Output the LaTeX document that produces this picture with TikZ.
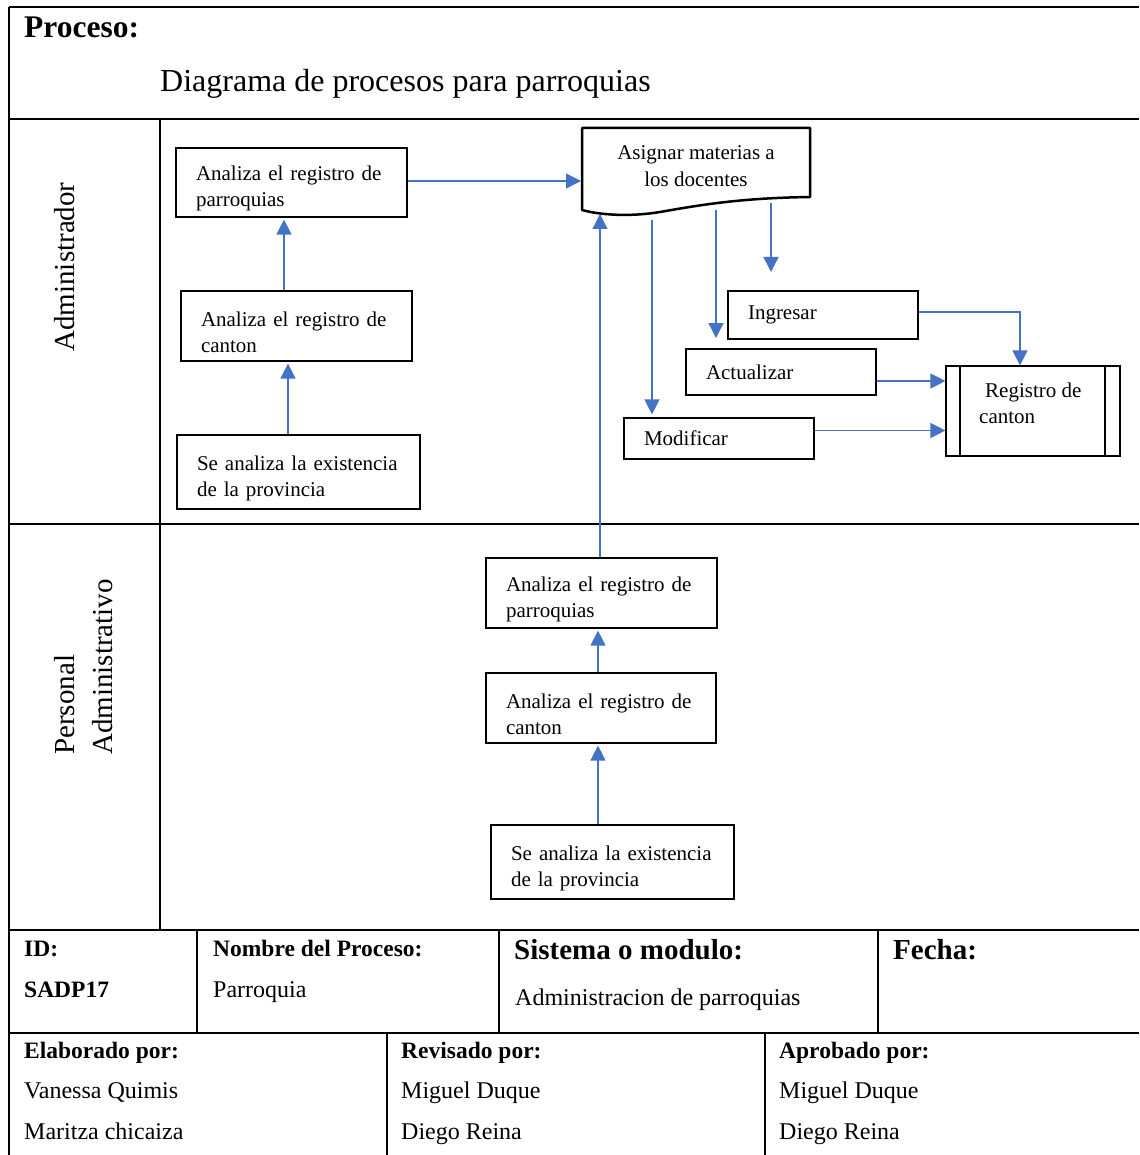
\documentclass[tikz,border=0pt]{standalone}
\usepackage{fontspec}
\setmainfont{Liberation Serif}
\usetikzlibrary{arrows.meta}
\definecolor{arrblue}{RGB}{68,114,196}
\newcommand\boxup{\rule{0pt}{27pt}}
\begin{document}
\begin{tikzpicture}[x=1pt,y=-1pt,
  box/.style={draw, line width=1.2pt, rectangle, inner xsep=20pt, inner ysep=0pt, align=left, font=\fontsize{21}{26}\selectfont},
  arr/.style={draw=arrblue, line width=1.3pt, -{Triangle[length=15pt,width=15pt]}},
  grid/.style={line width=2pt},
  lbl/.style={anchor=base west, inner sep=0pt},
  sbold/.style={lbl, font=\fontsize{23.5}{26}\selectfont\bfseries},
  sreg/.style={lbl, font=\fontsize{24}{26}\selectfont},
  bbold/.style={lbl, font=\fontsize{29}{34}\selectfont\bfseries},
  lane/.style={rotate=90, align=left, font=\fontsize{29}{38}\selectfont}]
\useasboundingbox (0,0) rectangle (1139,1155);
\fill[white] (0,0) rectangle (1139,1155);
% table frame
\draw[grid] (9,7) -- (1139,7);
\draw[grid] (9,7) -- (9,1155);
\draw[grid] (9,119) -- (1139,119);
\draw[grid] (160,119) -- (160,930);
\draw[grid] (9,524) -- (1139,524);
\draw[grid] (9,930) -- (1139,930);
\draw[grid] (197,930) -- (197,1033);
\draw[grid] (499,930) -- (499,1033);
\draw[grid] (878,930) -- (878,1033);
\draw[grid] (9,1033) -- (1139,1033);
\draw[grid] (387,1033) -- (387,1155);
\draw[grid] (765,1033) -- (765,1155);
% header
\node[lbl, font=\fontsize{31.5}{34}\selectfont\bfseries] (proc) at (24,38) {Proceso:};
\node[lbl, font=\fontsize{32}{34}\selectfont] (title) at (160,92) {Diagrama de procesos para parroquias};
% lane labels
\node[lane] (ladm) at (65,267) {Administrador};
\node[lane] (lper) at (84,667) {Personal\\Administrativo};
% admin lane boxes
\node[box, minimum width=231pt, minimum height=69pt, text width=191pt] (a1) at (291.5,182.5) {\boxup Analiza el registro de\\parroquias};
\node[box, minimum width=231pt, minimum height=70pt, text width=191pt] (a2) at (296.5,326) {\boxup Analiza el registro de\\canton};
\node[box, minimum width=243pt, minimum height=74pt, text width=203pt] (a3) at (298.5,472) {\boxup Se analiza la existencia\\de la provincia};
% document shape
\draw[line width=2.5pt, line join=round] (582,210) -- (582,128) -- (810,128) -- (810,197)
  .. controls (740,198) and (700,205) .. (660,212)
  .. controls (630,217) and (600,215) .. (582,210) -- cycle;
\node[align=center, font=\fontsize{21}{27}\selectfont] (doc) at (696,166) {Asignar materias a\\los docentes};
\coordinate (docL) at (581,181);
\coordinate (docP) at (600,214);
\coordinate (d1s) at (652,220);
\coordinate (d2s) at (716,210);
\coordinate (d3s) at (771,203);
\coordinate (d2e) at (716,338);
\coordinate (d3e) at (771,272);
% action boxes
\node[box, minimum width=190pt, minimum height=48pt, text width=150pt] (ing) at (823,315) {Ingresar};
\node[box, minimum width=190pt, minimum height=46pt, text width=150pt] (act) at (781,372) {Actualizar};
\node[box, minimum width=190pt, minimum height=41pt, text width=150pt] (mod) at (719,438.5) {Modificar};
% registro de canton
\node[draw, line width=1.2pt, minimum width=174pt, minimum height=90pt, inner sep=0pt] (rc) at (1033,411) {};
\draw[line width=1.2pt] (960,366) -- (960,456);
\draw[line width=1.2pt] (1105,366) -- (1105,456);
\node[anchor=north west, align=left, inner sep=0pt, font=\fontsize{21}{26}\selectfont] (rct) at (979,383) {\hspace{6pt}Registro de\\canton};
% personal lane boxes
\node[box, minimum width=231pt, minimum height=70pt, text width=191pt] (p1) at (601.5,593) {\boxup Analiza el registro de\\parroquias};
\node[box, minimum width=230pt, minimum height=70pt, text width=190pt] (p2) at (601,708) {\boxup Analiza el registro de\\canton};
\node[box, minimum width=243pt, minimum height=74pt, text width=203pt] (p3) at (612.5,862) {\boxup Se analiza la existencia\\de la provincia};
% arrows
\draw[arr] (a3.north -| 288,0) -- ([yshift=-2pt]a2.south -| 288,0);
\draw[arr] (a2.north -| 284,0) -- ([yshift=-2pt]a1.south -| 284,0);
\draw[arr] (a1.east |- docL) -- (docL);
\draw[arr] (p1.north -| docP) -- (docP);
\draw[arr] (p3.north -| 598,0) -- ([yshift=-2pt]p2.south -| 598,0);
\draw[arr] (p2.north -| 598,0) -- ([yshift=-2pt]p1.south -| 598,0);
\draw[arr] (d1s) -- ([yshift=3pt]mod.north -| d1s);
\draw[arr] (d2s) -- (d2e);
\draw[arr] (d3s) -- (d3e);
\draw[arr] ([yshift=3pt]ing.east) -| ([xshift=-13pt]rc.north);
\draw[arr] ([yshift=-9pt]act.east) -- ([yshift=-9pt]act.east -| rc.west);
\draw[arr] ([yshift=8pt]mod.east) -- ([yshift=8pt]mod.east -| rc.west);
% bottom table texts
\node[sbold] (id) at (24,956) {ID:};
\node[sbold] (idv) at (24,997) {SADP17};
\node[sbold] (nom) at (213,956) {Nombre del Proceso:};
\node[sreg] (nomv) at (213,997) {Parroquia};
\node[bbold] (sis) at (514,959) {Sistema o modulo:};
\node[sreg] (sisv) at (515,1005) {Administracion de parroquias};
\node[bbold] (fec) at (893,959) {Fecha:};
\node[sbold] (ela) at (24,1058) {Elaborado por:};
\node[sreg] (ela1) at (24,1098) {Vanessa Quimis};
\node[sreg] (ela2) at (24,1139) {Maritza chicaiza};
\node[sbold] (rev) at (401,1058) {Revisado por:};
\node[sreg] (rev1) at (401,1098) {Miguel Duque};
\node[sreg] (rev2) at (401,1139) {Diego Reina};
\node[sbold] (apr) at (779,1058) {Aprobado por:};
\node[sreg] (apr1) at (779,1098) {Miguel Duque};
\node[sreg] (apr2) at (779,1139) {Diego Reina};
\end{tikzpicture}
\end{document}
